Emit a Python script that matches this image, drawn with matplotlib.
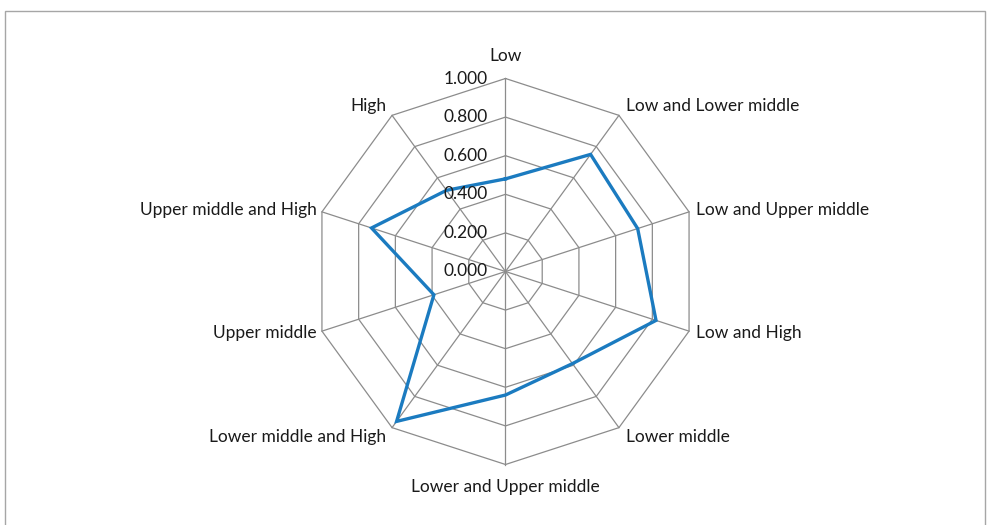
import numpy as np
import matplotlib
matplotlib.use("Agg")
import matplotlib.pyplot as plt
from matplotlib.patches import Rectangle

plt.rcParams['font.family'] = ['Lato', 'DejaVu Sans']

categories = ["Low", "Low and Lower middle", "Low and Upper middle", "Low and High",
              "Lower middle", "Lower and Upper middle", "Lower middle and High",
              "Upper middle", "Upper middle and High", "High"]
values = [0.48, 0.75, 0.72, 0.82, 0.59, 0.64, 0.96, 0.39, 0.73, 0.52]
ring_levels = [0.2, 0.4, 0.6, 0.8, 1.0]
tick_levels = [0.0, 0.2, 0.4, 0.6, 0.8, 1.0]
tick_labels = ["0.000", "0.200", "0.400", "0.600", "0.800", "1.000"]

W, H = 990, 525
cx, cy, R = 505.5, 271.5, 193.0
fig = plt.figure(figsize=(W / 100, H / 100), dpi=100)
ax = fig.add_axes([0, 0, 1, 1])
ax.set_xlim(-cx / R, (W - cx) / R)
ax.set_ylim(-(H - cy) / R, cy / R)
ax.axis('off')

n = len(categories)
theta = np.arange(n) * 2 * np.pi / n
sx, sy = np.sin(theta), np.cos(theta)

grid_col = '#8c8c8c'
for lv in ring_levels:
    ax.plot(np.append(sx, sx[0]) * lv, np.append(sy, sy[0]) * lv, color=grid_col, lw=0.9, zorder=1)
for i in range(n):
    ax.plot([0, sx[i]], [0, sy[i]], color=grid_col, lw=0.9, zorder=1)

v = np.array(values)
ax.plot(np.append(sx * v, sx[0] * v[0]), np.append(sy * v, sy[0] * v[0]),
        color='#1b7bc0', lw=2.4, zorder=3, solid_joinstyle='miter')

FS = 12.5
for lv, lab in zip(tick_levels, tick_labels):
    ax.annotate(lab, xy=(0, lv), xytext=(-13, 0), textcoords='offset points',
                ha='right', va='center', fontsize=FS, color='#1a1a1a', zorder=4)

for i, cat in enumerate(categories):
    s, c = sx[i], sy[i]
    if abs(s) < 1e-6:
        ha, va = 'center', 'center'
        off = (0, 16 if c > 0 else -16)
    else:
        va = 'center'
        ha = 'left' if s > 0 else 'right'
        dx = 5 if s > 0 else -4
        dy = 7 * np.sign(c) if abs(c) > 0.5 else 1.5 * np.sign(c)
        off = (dx, dy)
    ax.annotate(cat, xy=(s, c), xytext=off, textcoords='offset points',
                ha=ha, va=va, fontsize=FS, color='#1a1a1a')

fig.patches.append(Rectangle((5 / W, -0.1), 980 / W, (H - 11) / H + 0.1,
                             transform=fig.transFigure, fill=False,
                             edgecolor='#a6a6a6', lw=1.0, figure=fig))

fig.savefig('out.png', dpi=100)
